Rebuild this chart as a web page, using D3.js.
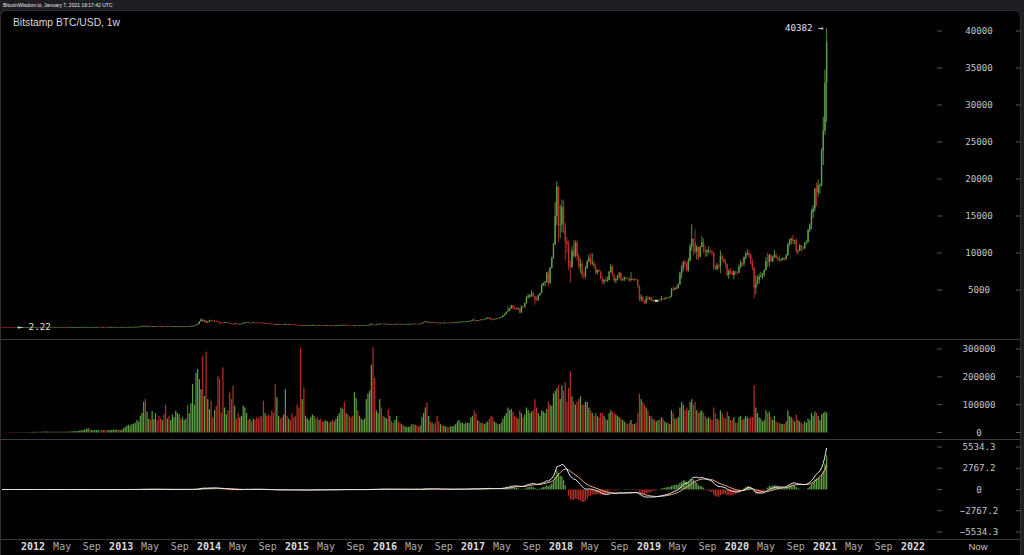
<!DOCTYPE html>
<html><head><meta charset="utf-8">
<script src="https://cdn.jsdelivr.net/npm/d3@7"></script>
<style>
html,body{margin:0;padding:0;background:#1e1e22;overflow:hidden}
svg{display:block}
</style></head><body>
<svg id="c" width="1024" height="555"></svg>
<script>
// ---------- data ----------
const headerText = "BitcoinWisdom.io, January 7, 2021 18:17:42 UTC";
const titleText = "Bitstamp BTC/USD, 1w";
const firstWeek = "2011-08-22";   // Monday of the first weekly candle
const firstOpen = 10.8;

const weekClose = [
// 2011
8.6,8.2,6.9,5.6,5.3,5.1,4.9,4.1,2.6,3.2,3.25,3.0,2.3,2.5,2.9,3.0,3.2,3.9,4.7,
// 2012
6.8,6.9,6.3,5.7,5.9,5.7,4.4,4.9,4.95,4.85,5.3,4.7,4.8,4.95,4.9,5.2,5.1,5.15,5.0,5.1,5.05,5.2,5.4,5.9,6.3,6.6,6.7,7.4,8.5,8.8,10.9,11.0,11.5,10.4,10.7,11.0,11.7,12.3,12.4,12.0,11.8,11.9,11.0,10.8,10.9,11.7,12.3,12.6,13.3,13.5,13.4,13.5,13.7,
// 2013
14.0,15.6,17.5,20.4,22.6,26.9,29.8,34.3,46.9,47.0,72.0,93.0,162,90,127,139,115,117,122,131,122,108,100,108,88,77,97,90,95,105,106,112,120,131,123,126,128,133,124,136,160,182,210,300,420,760,1000,760,870,600,730,920,
// 2014
860,830,840,805,680,620,600,560,630,635,580,470,450,420,500,440,435,440,445,520,630,655,595,598,590,635,620,618,595,590,588,500,505,480,478,477,410,405,325,380,390,355,340,365,390,350,378,355,350,320,315,275,
// 2015
270,210,255,225,226,235,240,255,275,285,260,250,255,235,222,225,235,242,237,240,225,226,233,245,250,270,292,275,292,282,265,261,228,230,240,230,232,235,238,247,263,282,325,375,330,323,360,390,450,440,422,430,
// 2016
448,385,390,377,373,400,437,433,410,412,410,416,420,422,430,458,448,460,455,443,470,575,665,760,665,672,655,665,655,624,590,570,580,575,606,608,605,603,615,616,638,655,700,705,707,735,737,765,775,790,890,1000,
// 2017
905,825,920,915,1020,1000,1050,1180,1270,1230,1020,965,1085,1190,1180,1250,1350,1570,1780,2050,2180,2520,2950,2600,2590,2500,2505,1930,2750,2730,3240,4070,4090,4340,4600,4150,3680,3600,4330,4610,5680,6000,6140,7360,5950,8000,9300,11200,15000,19000,13800,13900,
// 2018
16200,13600,11600,11200,8200,8100,10300,9600,11400,9600,8200,8500,7000,6950,8000,8900,9300,8600,8700,8200,7350,7700,7500,6500,6150,6380,6250,6350,7400,8200,7000,6300,6500,7000,7270,6400,6500,6700,6625,6560,6300,6480,6400,6420,6380,5600,3800,4000,3500,3200,3850,3800,4000,
// 2019
3550,3600,3540,3540,3660,3620,3820,3810,3880,3990,3980,4100,5070,5050,5300,5270,5760,7250,8000,8750,8550,7650,8950,10850,11900,11450,10200,10800,9500,10800,11400,10350,10140,10380,10400,10300,10050,8050,7850,8300,8200,9550,9200,8800,8500,7050,7550,7500,7050,7500,7400,7350,
// 2020
8100,8700,8600,9380,9900,9950,9700,8550,8000,5350,5800,6400,6780,6900,7100,7700,8900,8750,9700,8900,9450,9750,9350,9300,9000,9070,9250,9180,9700,11100,11700,11900,11650,11700,10250,10330,11080,10750,10650,11380,11500,13100,13800,15500,16000,18700,18200,19150,19200,23800,26500,33000,
// 2021
38500
];

const weekHigh = [
// 2011
11.0,8.9,8.3,6.9,6.0,5.6,5.3,5.0,4.2,3.5,3.6,3.3,3.1,2.7,3.1,3.2,3.3,4.0,4.8,
// 2012
7.2,7.2,6.9,6.4,6.1,6.0,5.8,5.1,5.0,5.1,5.4,5.4,5.0,5.0,5.0,5.3,5.3,5.2,5.2,5.2,5.2,5.3,5.5,6.0,6.5,6.8,6.8,7.5,8.6,9.0,11.0,11.2,15.4,11.8,11.0,11.2,11.9,12.5,12.6,12.8,12.1,12.0,11.9,11.2,11.0,11.8,12.4,12.7,13.6,13.7,13.7,13.6,13.9,
// 2013
14.5,15.9,18.5,20.5,23.0,27.5,30.0,34.5,48.0,48.5,74.0,96.0,166,266,128,140,145,118,123,132,134,123,110,111,108,90,98,98,97,106,108,113,121,132,134,128,128,134,140,137,164,190,212,302,440,780,1163,1130,1000,880,760,960,
// 2014
1000,880,880,870,830,710,680,620,700,670,640,590,500,480,540,510,460,460,460,530,640,680,665,610,605,650,640,630,625,600,600,595,520,520,490,490,480,420,415,400,405,370,365,372,455,400,385,385,380,360,340,335,
// 2015
300,290,265,310,245,240,245,265,280,300,295,270,260,258,240,235,240,245,245,245,242,232,235,252,252,272,315,300,310,298,285,270,262,240,245,242,235,238,240,250,268,285,330,500,390,337,368,395,470,468,455,440,
// 2016
460,450,410,395,380,405,445,445,440,420,418,420,425,425,432,465,465,465,462,458,473,580,680,780,770,710,685,680,680,665,630,600,585,590,610,612,612,610,618,620,640,660,700,740,715,745,745,770,780,795,900,1000,
// 2017
1150,910,930,930,1030,1070,1060,1200,1290,1330,1250,1070,1100,1200,1220,1260,1360,1580,1800,2080,2760,2560,2980,2980,2780,2600,2650,2540,2940,2830,3300,4200,4480,4380,4980,4700,4250,4120,4380,4620,5860,6000,6150,7400,7600,8100,9500,11400,16900,19666,18900,16500,
// 2018
17250,17100,14100,12200,11700,9000,10900,11800,11700,11700,9900,9200,8950,7500,8250,9000,9750,9990,9950,8900,8500,7800,7800,7600,6850,6500,6750,6800,7600,8500,8250,7200,6600,7000,7400,7420,6550,6800,6820,6700,6650,7400,6600,6550,6500,6500,5600,4400,4200,3600,4200,4250,4050,
// 2019
4100,3720,3640,3600,3700,3720,4200,3900,3950,4000,4080,4130,5300,5460,5350,5630,5900,7500,8380,8950,9100,8800,9350,11250,13880,12000,13180,11100,10900,11000,12300,11980,10950,10480,10900,10460,10300,10100,8400,8680,8440,10350,9940,9370,9170,8600,7880,7900,7640,7670,7560,7550,
// 2020
8450,9000,8780,9550,10160,10500,10250,9950,9180,8100,6950,6950,7200,7470,7300,7780,9450,10050,9900,9800,9600,10400,9980,9550,9680,9300,9450,9300,9900,11400,11900,12100,12450,11800,12000,10450,11180,11000,10920,11450,11700,13250,14000,15950,16480,18800,19500,19900,19400,24200,28400,34800,
// 2021
40382
];

const weekLow = [
// 2011
8.0,7.6,6.5,4.8,4.8,4.9,4.6,3.9,2.22,2.6,3.0,2.8,2.25,2.3,2.4,2.8,2.9,3.2,3.9,
// 2012
5.3,6.2,6.0,5.3,5.5,5.4,4.2,4.3,4.7,4.8,4.9,4.6,4.6,4.8,4.8,4.9,5.0,5.0,4.9,4.9,5.0,5.1,5.2,5.4,5.8,6.2,6.4,6.6,7.3,8.4,8.7,10.5,7.1,9.7,10.1,10.6,10.9,11.6,12.1,11.9,11.6,11.6,10.7,10.3,10.5,10.8,11.6,12.2,12.5,13.2,13.2,13.2,13.3,
// 2013
13.2,13.9,15.5,17.4,20.2,22.5,26.8,29.0,34.0,44.5,46.5,70.0,93.0,50.0,72.0,118,105,104,108,115,116,100,95,97,85,65,75,85,87,93,100,102,110,118,119,117,122,124,90,118,135,158,180,210,296,400,740,750,700,455,570,720,
// 2014
780,790,800,760,660,400,550,520,540,600,570,450,420,340,410,430,420,420,430,440,510,620,570,560,560,580,610,610,590,580,570,490,460,470,460,465,400,380,280,320,370,350,330,330,340,345,340,340,340,310,310,265,
// 2015
260,152,200,215,212,215,230,234,250,270,255,235,240,232,215,215,220,232,232,232,224,220,225,232,240,248,260,265,265,280,260,255,185,200,225,228,225,228,232,235,245,263,280,320,300,310,318,355,385,430,410,415,
// 2016
425,370,360,365,365,370,395,420,405,405,405,410,412,413,418,425,440,440,448,437,438,470,570,660,550,625,630,645,645,620,480,565,565,568,570,600,600,590,598,605,610,635,650,680,680,700,720,720,750,765,780,885,
// 2017
750,760,820,880,910,990,975,1040,1120,1130,970,890,1000,1040,1150,1170,1240,1360,1550,1700,2100,2150,2450,2350,2330,2300,2350,1850,1930,2600,2650,3150,3850,3950,4080,4000,3000,3600,3580,4180,4560,5550,5500,5950,5550,5850,7900,9200,11000,13700,11500,12000,
// 2018
12800,12700,9000,10000,7700,6000,8000,9400,9400,9000,7800,7300,6600,6450,6600,7850,8750,8400,8350,7900,7200,7050,7400,6450,5800,5750,6100,6100,6300,7350,6900,6100,5880,6300,6600,6200,6200,6200,6350,6500,6100,6280,6350,6300,6350,5200,3500,3450,3400,3120,3200,3600,3700,
// 2019
3520,3480,3500,3380,3380,3580,3600,3700,3700,3820,3900,3870,4050,4900,5000,5080,5160,5680,6600,7500,7900,7450,7500,8850,10300,9700,9850,9100,9100,9400,10800,9950,9500,9500,9900,9900,9700,7700,7750,7700,7900,7300,8900,8600,8000,6800,6500,7150,7000,6430,7100,7000,
// 2020
7300,7980,8250,8250,9150,9700,9300,8450,7650,3850,4450,5700,5860,6750,6500,6800,7620,8100,8200,8800,8700,9350,9250,8950,8850,8950,9000,9000,9080,9650,10950,11150,11200,11150,9950,9850,10250,10200,10350,10550,11200,11400,12800,13200,14700,15600,16300,17600,18000,19000,21900,26000,
// 2021
27700
];

const weekVolume = [
// 2011
200,400,600,800,900,1000,1100,1300,1500,1400,1200,1100,1500,1400,1200,1300,1500,1800,2000,
// 2012
2500,3000,2800,2600,2700,2800,4500,3500,3000,2800,3000,3500,3000,2800,2700,3000,3200,3000,3200,3300,3400,3500,4000,4500,5000,5200,5500,6500,8000,9000,11000,12000,16000,12000,9000,8000,9000,9500,9000,8500,8000,8000,9000,8500,8000,9000,9500,10000,11000,10000,9500,9000,10000,
// 2013
15000,20000,25000,28000,25000,30000,32000,35000,45000,40000,60000,70000,110000,120000,75000,50000,45000,78000,48000,70000,45000,60000,52000,45000,66000,100000,50000,60000,45000,65000,55000,78000,70000,65000,48000,55000,45000,50000,100000,70000,105000,175000,100000,215000,228000,192000,156000,277000,132000,291000,120000,84000,
// 2014
114000,54000,80000,96000,204000,192000,70000,234000,90000,66000,80000,144000,120000,168000,96000,50000,70000,55000,60000,96000,90000,70000,45000,50000,40000,50000,45000,55000,50000,60000,58000,114000,70000,60000,65000,60000,80000,70000,174000,127000,60000,50000,55000,65000,156000,60000,50000,45000,70000,55000,60000,100000,
// 2015
90000,305000,120000,160000,60000,50000,45000,55000,65000,60000,50000,55000,45000,50000,40000,40000,45000,40000,35000,40000,45000,40000,50000,60000,70000,90000,85000,110000,70000,65000,60000,55000,60000,145000,125000,80000,60000,50000,45000,50000,120000,140000,150000,243000,306000,196000,80000,70000,120000,90000,60000,55000,
// 2016
50000,84000,60000,40000,35000,45000,60000,40000,35000,30000,25000,22000,20000,20000,22000,30000,30000,28000,25000,22000,25000,55000,70000,90000,108000,60000,40000,35000,30000,35000,60000,40000,30000,25000,25000,22000,20000,20000,22000,22000,25000,30000,40000,45000,35000,35000,30000,35000,35000,35000,55000,60000,
// 2017
80000,70000,45000,40000,35000,35000,30000,35000,40000,50000,60000,55000,40000,35000,30000,30000,35000,50000,60000,70000,90000,80000,85000,75000,60000,55000,50000,80000,70000,55000,65000,90000,80000,70000,75000,80000,120000,90000,70000,60000,80000,75000,70000,85000,110000,100000,95000,140000,150000,160000,170000,120000,
// 2018
170000,150000,180000,110000,160000,220000,130000,110000,100000,110000,120000,130000,100000,100000,110000,110000,90000,80000,70000,60000,70000,60000,55000,70000,70000,60000,50000,45000,70000,80000,75000,70000,65000,60000,55000,50000,45000,40000,35000,30000,35000,45000,30000,30000,35000,70000,140000,120000,110000,100000,90000,80000,60000,
// 2019
60000,50000,45000,40000,45000,45000,55000,50000,40000,35000,35000,30000,80000,70000,50000,50000,55000,90000,110000,100000,80000,90000,80000,110000,120000,100000,110000,80000,70000,75000,80000,70000,60000,50000,55000,50000,45000,90000,70000,50000,45000,80000,70000,55000,50000,75000,60000,45000,45000,55000,35000,35000,
// 2020
55000,60000,45000,50000,60000,55000,50000,55000,55000,170000,90000,70000,55000,50000,40000,45000,80000,70000,75000,55000,45000,60000,40000,35000,35000,30000,30000,30000,40000,80000,60000,55000,50000,40000,65000,45000,40000,35000,30000,40000,35000,50000,45000,70000,60000,75000,70000,60000,45000,65000,70000,75000,
// 2021
72000
];

const priceTicks = [5000,10000,15000,20000,25000,30000,35000,40000];
const volumeTicks = [0,100000,200000,300000];
const macdTicks = [5534.3,2767.2,0,-2767.2,-5534.3];
const yearLabels = ["2012","2013","2014","2015","2016","2017","2018","2019","2020","2021","2022"];
const monthLabels = ["May","Sep"];
const nowLabel = "Now";
const macdPeriods = [12,26,9];

// ---------- checks ----------
const n = weekClose.length;
if (weekHigh.length!==n || weekLow.length!==n || weekVolume.length!==n)
  throw new Error("length mismatch "+[n,weekHigh.length,weekLow.length,weekVolume.length].join(","));

// ---------- build ----------
const parseDay = d3.utcParse("%Y-%m-%d");
const start = parseDay(firstWeek);
const candles = weekClose.map((c,i)=>({
  t: d3.utcHour.offset(d3.utcDay.offset(start, 7*i), 84),
  open: i===0 ? firstOpen : weekClose[i-1],
  close: c, high: weekHigh[i], low: weekLow[i], vol: weekVolume[i]
}));
// MACD (histogram drawn as 2 x (DIF - DEA))
function ema(arr, p){ const k=2/(p+1); let out=[]; arr.forEach((v,i)=>{ out.push(i===0?v:out[i-1]+k*(v-out[i-1])); }); return out; }
const e12 = ema(weekClose, macdPeriods[0]), e26 = ema(weekClose, macdPeriods[1]);
const dif = weekClose.map((_,i)=>e12[i]-e26[i]);
const dea = ema(dif, macdPeriods[2]);
candles.forEach((d,i)=>{ d.dif=dif[i]; d.dea=dea[i]; d.hist=2*(dif[i]-dea[i]); });

const UP="#5fa044", DOWN="#b8302a", FLAT="#e0e0e0";
const svg = d3.select("#c");
const x = d3.scaleUtc().domain([Date.UTC(2012,0,1), Date.UTC(2022,0,1)]).range([33,913]);
const yP = d3.scaleLinear().domain([0,40000]).range([327,31]);
const yV = d3.scaleLinear().domain([0,300000]).range([432.5,349]);
const yM = d3.scaleLinear().domain([-5534.3,5534.3]).range([532,447]);

// frame
svg.append("rect").attr("x",0.5).attr("y",10.5).attr("width",1020).attr("height",560).attr("rx",6)
  .attr("fill","#000").attr("stroke","#2e2e32");
svg.append("text").attr("x",3).attr("y",7).attr("fill","#e8e8e8")
  .attr("font-family","Liberation Sans, Arial, sans-serif").attr("font-size",5).text(headerText);
svg.append("text").attr("x",13).attr("y",26).attr("fill","#d8d8d8")
  .attr("font-family","Liberation Sans, Arial, sans-serif").attr("font-size",10.3).text(titleText);

// separators
[339.5,439.5,539.5].forEach(yy=>svg.append("line").attr("x1",1).attr("x2",1020).attr("y1",yy).attr("y2",yy).attr("stroke","#3c3c3c"));

const defs = svg.append("defs");
function clip(id,y0,y1){ defs.append("clipPath").attr("id",id).append("rect").attr("x",0).attr("y",y0).attr("width",935).attr("height",y1-y0); return "url(#"+id+")"; }
const gP = svg.append("g").attr("clip-path",clip("cp",11,339));
const gV = svg.append("g").attr("clip-path",clip("cv",340,439));
const gM = svg.append("g").attr("clip-path",clip("cm",440,539));

const col = d=> d.close>d.open?UP:(d.close<d.open?DOWN:FLAT);
// candles
gP.selectAll("line.w").data(candles).join("line").attr("class","w")
  .attr("x1",d=>x(d.t)).attr("x2",d=>x(d.t)).attr("y1",d=>yP(d.high)).attr("y2",d=>yP(d.low))
  .attr("stroke",col).attr("stroke-width",0.9);
gP.selectAll("rect.b").data(candles).join("rect").attr("class","b")
  .attr("x",d=>x(d.t)-(d.close===d.open?1.5:0.7)).attr("width",d=>d.close===d.open?3:1.4)
  .attr("y",d=>yP(Math.max(d.open,d.close))-(d.close===d.open?1:0))
  .attr("height",d=>d.close===d.open?2:Math.max(0.8, Math.abs(yP(d.open)-yP(d.close))))
  .attr("fill",col);
// volume
gV.selectAll("rect").data(candles).join("rect")
  .attr("x",d=>x(d.t)-0.6).attr("width",1.2)
  .attr("y",d=>yV(d.vol)).attr("height",d=>yV(0)-yV(d.vol)).attr("fill",d=>d.close>=d.open?UP:DOWN);
// macd
gM.selectAll("rect").data(candles).join("rect")
  .attr("x",d=>x(d.t)-0.6).attr("width",1.2)
  .attr("y",d=>Math.min(yM(0),yM(d.hist))).attr("height",d=>Math.abs(yM(d.hist)-yM(0)))
  .attr("fill",d=>d.hist>=0?UP:DOWN);
gM.append("path").datum(candles).attr("fill","none").attr("stroke","#f0b488").attr("stroke-width",1)
  .attr("d",d3.line().x(d=>x(d.t)).y(d=>yM(d.dea)));
gM.append("path").datum(candles).attr("fill","none").attr("stroke","#e6eef6").attr("stroke-width",1)
  .attr("d",d3.line().x(d=>x(d.t)).y(d=>yM(d.dif)));

// right axes
const mono = "DejaVu Sans Mono, monospace";
function rightAxis(ticks, scale, fmt){
  ticks.forEach(v=>{
    const yy = scale(v);
    svg.append("line").attr("x1",937).attr("x2",942).attr("y1",yy).attr("y2",yy).attr("stroke","#555");
    svg.append("line").attr("x1",1016).attr("x2",1021).attr("y1",yy).attr("y2",yy).attr("stroke","#555");
    svg.append("text").attr("x",979).attr("y",yy+3.2).attr("text-anchor","middle")
      .attr("fill","#c4c4c4").attr("font-family",mono).attr("font-size",9.2).text(fmt(v));
  });
}
rightAxis(priceTicks, yP, v=>String(v));
rightAxis(volumeTicks, yV, v=>String(v));
rightAxis(macdTicks, yM, v=>v.toFixed(1).replace(/\.0$/,"").replace("-","\u2212"));

// bottom axis
const gx = svg.append("g");
yearLabels.forEach((yl,yi)=>{
  const yr = +yl;
  gx.append("text").attr("x",x(Date.UTC(yr,0,1))).attr("y",550).attr("text-anchor","middle")
    .attr("fill","#dcdcdc").attr("font-weight","bold").attr("font-family",mono).attr("font-size",10).text(yl);
  if (yi < yearLabels.length-1) {
    monthLabels.forEach((m,mi)=>{
      gx.append("text").attr("x",x(Date.UTC(yr,4+mi*4,1))).attr("y",550).attr("text-anchor","middle")
        .attr("fill","#a8a8a8").attr("font-family",mono).attr("font-size",10).text(m);
    });
  }
});
svg.append("text").attr("x",978).attr("y",550).attr("text-anchor","middle").attr("fill","#c4c4c4")
  .attr("font-family","Liberation Sans, Arial, sans-serif").attr("font-size",9.5).text(nowLabel);

// max / min markers
const iMax = d3.maxIndex(candles,d=>d.high), iMin = d3.minIndex(candles,d=>d.low);
svg.append("text").attr("x",x(candles[iMax].t)-3).attr("y",yP(candles[iMax].high)+3)
  .attr("text-anchor","end").attr("fill","#e0e0e0").attr("font-family",mono).attr("font-size",9.2)
  .text(candles[iMax].high+" \u2192");
svg.append("text").attr("x",x(candles[iMin].t)+2).attr("y",yP(candles[iMin].low)+3)
  .attr("fill","#e0e0e0").attr("font-family",mono).attr("font-size",9.2)
  .text("\u2190 "+candles[iMin].low);
</script>
</body></html>
